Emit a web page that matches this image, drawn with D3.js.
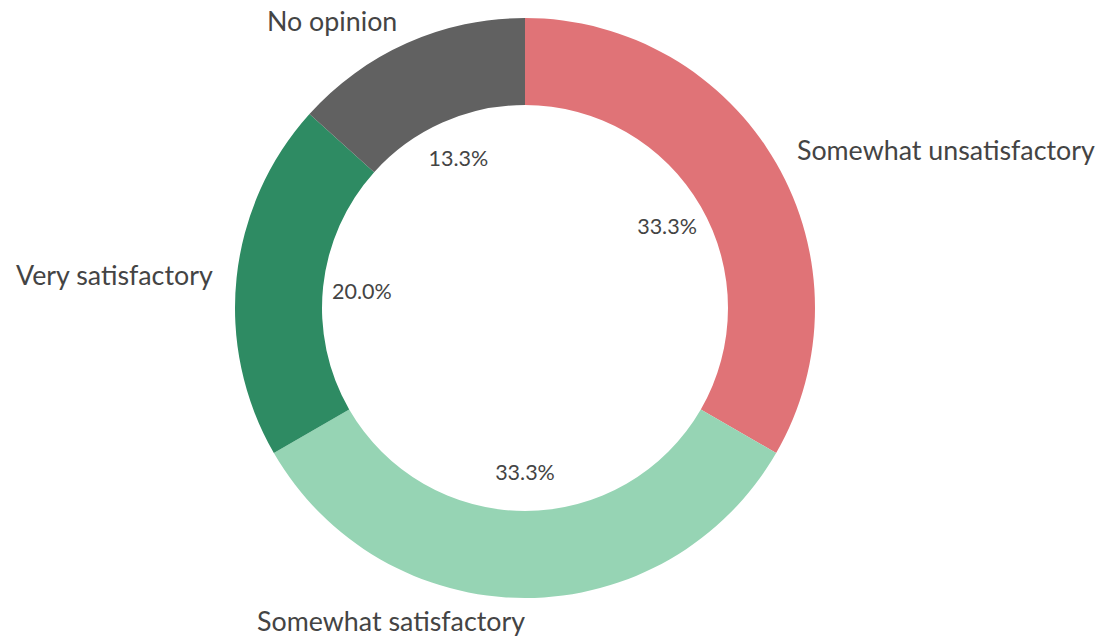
<!DOCTYPE html>
<html><head><meta charset="utf-8">
<script src="https://cdn.jsdelivr.net/npm/d3@7"></script>
<style>body{margin:0;background:#fff}svg{display:block}</style>
</head><body>
<svg id="c" width="1099" height="636"></svg>
<script>
const categories = ["Somewhat unsatisfactory","Somewhat satisfactory","Very satisfactory","No opinion"];
const values = [5,5,3,2];
const colors = ["#e07377","#96d4b4","#2e8b63","#616161"];

const svg = d3.select("#c");
const cx = 525, cy = 308, R = 290, r = 203;
const g = svg.append("g").attr("transform", `translate(${cx},${cy})`);
const data = categories.map((c,i)=>({cat:c,val:values[i],col:colors[i]}));
const total = d3.sum(values);
const pie = d3.pie().value(d=>d.val).sort(null);
const arcs = pie(data);
const arc = d3.arc().innerRadius(r).outerRadius(R);
g.selectAll("path").data(arcs).join("path").attr("d",arc).attr("fill",d=>d.data.col);

const pctArc = d3.arc().innerRadius(164).outerRadius(164);
g.selectAll("text.pct").data(arcs).join("text").attr("class","pct")
 .attr("transform",d=>`translate(${pctArc.centroid(d)})`)
 .attr("text-anchor","middle").attr("dy","0.38em")
 .style("font-family","Lato, 'Open Sans', sans-serif").style("font-size","21.5px").style("fill","#444")
 .text(d=>(d.data.val/total*100).toFixed(1)+"%");

const labArc = d3.arc().innerRadius(314).outerRadius(314);
g.selectAll("text.lab").data(arcs).join("text").attr("class","lab")
 .attr("transform",d=>`translate(${labArc.centroid(d)})`)
 .attr("text-anchor",d=>{const m=(d.startAngle+d.endAngle)/2; return m < Math.PI-1e-6 ? "start":"end";})
 .attr("dy","0.35em")
 .style("font-family","Lato, 'Open Sans', sans-serif").style("font-size","26.8px").style("fill","#444")
 .text(d=>d.data.cat);
</script>
</body></html>
